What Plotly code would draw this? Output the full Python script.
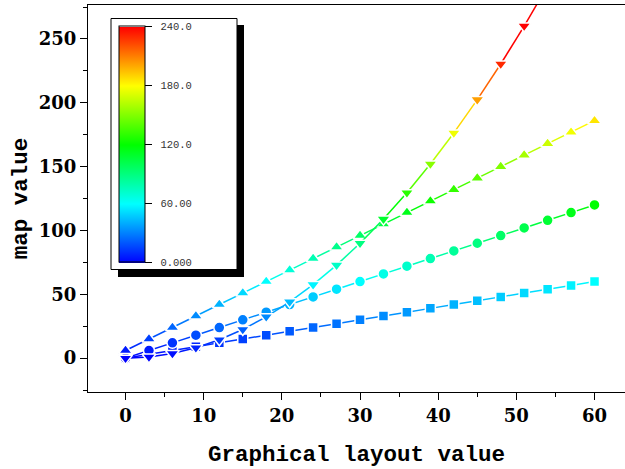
import plotly.graph_objects as go
from plotly.colors import sample_colorscale

# ---------------- data ----------------
x_vals = [0, 3, 6, 9, 12, 15, 18, 21, 24, 27, 30, 33, 36, 39, 42, 45, 48, 51, 54, 57, 60]
square_y = [0, 3, 6, 9, 12, 15, 18, 21, 24, 27, 30, 33, 36, 39, 42, 45, 48, 51, 54, 57, 60]
circle_y = [0, 6, 12, 18, 24, 30, 36, 42, 48, 54, 60, 66, 72, 78, 84, 90, 96, 102, 108, 114, 120]
up_y = [6, 15, 24, 33, 42, 51, 60, 69, 78, 87, 96, 105, 114, 123, 132, 141, 150, 159, 168, 177, 186]
down_y = [0, 0.9, 3.6, 8.1, 14.4, 22.5, 32.4, 44.1, 57.6, 72.9, 90.0, 108.9, 129.6,
          152.1, 176.4, 202.5, 230.4, 260.1, 291.6, 324.9, 360.0]
cbar_vals = [0, 60, 120, 180, 240]
cbar_text = ["0.000", "60.00", "120.0", "180.0", "240.0"]
x_ticks = [0, 10, 20, 30, 40, 50, 60]
y_ticks = [0, 50, 100, 150, 200, 250]

# ---------------- style ----------------
CSCALE = [[0.0, "rgb(0,0,255)"], [0.25, "rgb(0,255,255)"], [0.5, "rgb(0,255,0)"],
          [0.75, "rgb(255,255,0)"], [1.0, "rgb(255,0,0)"]]
CMIN, CMAX = 0, 240

W, H = 625, 469
ML, MR, MT, MB = 88, 0, 5, 77
PW, PH = W - ML - MR, H - MT - MB


def px_x(p):
    return (p - ML) / PW


def px_y(p):
    return (H - MB - p) / PH


def col(v):
    t = min(max((v - CMIN) / (CMAX - CMIN), 0.0), 1.0)
    return sample_colorscale(CSCALE, [t])[0]


series = [
    ("square", square_y, 10),
    ("circle", circle_y, 11),
    ("triangle-up", up_y, 12),
    ("triangle-down", down_y, 12),
]

fig = go.Figure()
for k, (sym, ys, size) in enumerate(series):
    for i in range(len(x_vals) - 1):
        fig.add_trace(go.Scatter(
            x=[x_vals[i], x_vals[i + 1]], y=[ys[i], ys[i + 1]], mode="lines",
            line=dict(color=col((ys[i] + ys[i + 1]) / 2), width=1.5),
            showlegend=False, hoverinfo="skip"))
    fig.add_trace(go.Scatter(
        x=x_vals, y=ys, mode="markers", showlegend=False,
        marker=dict(symbol=sym, size=size, color=ys, colorscale=CSCALE,
                    cmin=CMIN, cmax=CMAX, line=dict(color="white", width=1.5),
                    showscale=(k == len(series) - 1),
                    colorbar=dict(
                        thicknessmode="pixels", thickness=26,
                        lenmode="pixels", len=236,
                        x=px_x(119), xanchor="left", y=px_y(144.5), yanchor="middle",
                        xpad=0, ypad=0, outlinecolor="black", outlinewidth=1,
                        tickmode="array", tickvals=cbar_vals,
                        ticktext=["\u00a0" + t for t in cbar_text],
                        ticks="outside", ticklen=7, tickcolor="black", tickwidth=1,
                        tickfont=dict(family="Liberation Mono", size=10.5, color="#333"),
                        bgcolor="rgba(0,0,0,0)", borderwidth=0))))

# colour-scale frame with drop shadow
fig.add_shape(type="rect", xref="paper", yref="paper",
              x0=px_x(118), x1=px_x(244), y0=px_y(277), y1=px_y(25),
              fillcolor="black", line=dict(width=0), layer="above")
fig.add_shape(type="rect", xref="paper", yref="paper",
              x0=px_x(111), x1=px_x(237), y0=px_y(269.5), y1=px_y(18.5),
              fillcolor="white", line=dict(color="black", width=1), layer="above")

tickfont = dict(family="DejaVu Serif", size=18, color="black", weight="bold")
titlefont = dict(family="Liberation Mono", size=22.5, color="black", weight="bold")

fig.update_layout(
    width=W, height=H, margin=dict(l=ML, r=MR, t=MT, b=MB),
    paper_bgcolor="white", plot_bgcolor="white",
    xaxis=dict(range=[-4.8, 63.9], tickmode="array", tickvals=x_ticks,
               showgrid=False, zeroline=False, showline=True, linecolor="black",
               linewidth=1, mirror=True, ticks="outside", ticklen=7, tickcolor="black",
               tickfont=tickfont,
               minor=dict(dtick=5, tick0=0, ticks="outside", ticklen=4, tickcolor="black",
                          showgrid=False),
               title=dict(text="Graphical layout value", font=titlefont, standoff=20)),
    yaxis=dict(range=[-26.5, 276.6], tickmode="array", tickvals=y_ticks,
               showgrid=False, zeroline=False, showline=True, linecolor="black",
               linewidth=1, ticks="outside", ticklen=7, tickcolor="black",
               tickfont=tickfont,
               minor=dict(dtick=25, tick0=0, ticks="outside", ticklen=4, tickcolor="black",
                          showgrid=False),
               title=dict(text="map value", font=titlefont, standoff=4)),
)

fig.write_html("out.html")
